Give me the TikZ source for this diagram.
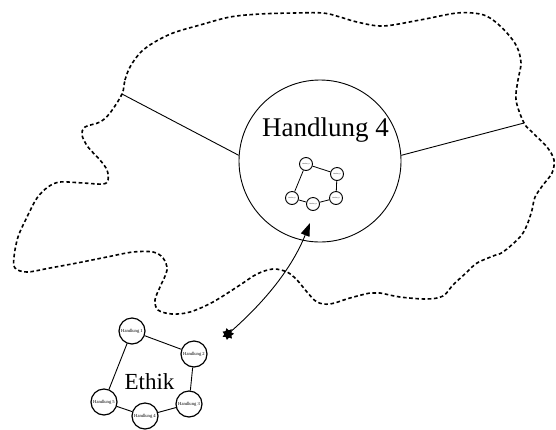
\documentclass[tikz,border=0pt]{standalone}
\usepackage{fontspec}
\setmainfont{Liberation Serif}
\usetikzlibrary{arrows.meta,shapes.geometric}
\begin{document}
\begin{tikzpicture}[x=1pt,y=-1pt,
  cloud/.style={line width=1.6pt,dash pattern=on 3.6pt off 2.6pt},
  bigcircle/.style={circle,draw,line width=0.9pt,minimum size=162pt,inner sep=0pt},
  hnode/.style={circle,draw,line width=1.2pt,minimum size=26pt,inner sep=0pt,font=\fontsize{4.6}{5}\selectfont},
  snode/.style={circle,draw,line width=0.9pt,minimum size=13pt,inner sep=0pt,font=\fontsize{1.6}{2}\selectfont},
  link/.style={line width=0.9pt},
  slink/.style={line width=0.8pt}]
\useasboundingbox (0,0) rectangle (556,429);
% dashed cloud
\draw[cloud] plot[smooth cycle,tension=0.55] coordinates {
(122,94) (125,80) (130,67) (140,53) (153,43) (173,33) (200,25) (230,17) (260,14)
(293,13) (323,13) (340,17) (357,22) (383,26) (420,20) (457,13) (480,14) (493,20)
(507,33) (517,47) (521,63) (518,80) (516,100) (524,123) (533,133) (547,147)
(554,160) (552,173) (543,185) (535,197) (532,210) (527,225) (520,237) (503,252)
(493,256) (477,263) (467,272) (453,285) (443,296) (427,299) (400,297) (380,293)
(370,293) (350,298) (330,304) (317,302) (307,292) (297,280) (287,272) (273,269)
(257,274) (240,285) (213,302) (190,312) (172,314) (158,310) (155,300) (160,287)
(167,270) (163,258) (153,252) (133,252) (107,257) (77,263) (50,268) (27,272)
(15,268) (14,257) (18,237) (27,217) (37,198) (48,187) (60,182) (83,183) (103,184)
(108,180) (107,170) (100,160) (88,147) (82,135) (85,127) (100,122) (110,113)};
\coordinate (cl) at (122,94);
\coordinate (cr) at (524,123);
% big circle
\node[bigcircle] (big) at (320,161) {};
\node[font=\fontsize{27}{30}\selectfont,anchor=base,inner sep=0pt] (biglabel) at (325.5,136) {Handlung 4};
\draw[link] (cl) -- (big.176);
\draw[link] (cr) -- (big.4);
% small network inside
\node[snode] (s1) at (306,164) {Handlung 1};
\node[snode] (s2) at (337,174) {Handlung 2};
\node[snode] (s3) at (336,198) {Handlung 3};
\node[snode] (s4) at (313,204) {Handlung 4};
\node[snode] (s5) at (292,198) {Handlung 5};
\draw[slink] (s1) -- (s2) (s2) -- (s3) (s3) -- (s4) (s4) -- (s5) (s5) -- (s1);
% Ethik network
\node[hnode] (h1) at (132,331) {Handlung 1};
\node[hnode] (h2) at (194,354) {Handlung 2};
\node[hnode] (h3) at (189,404) {Handlung 3};
\node[hnode] (h4) at (145,416) {Handlung 4};
\node[hnode] (h5) at (104,402) {Handlung 5};
\draw[link] (h1) -- (h2) (h2) -- (h3) (h3) -- (h4) (h4) -- (h5) (h5) -- (h1);
\node[font=\fontsize{23}{26}\selectfont,anchor=base,inner sep=0pt] (ethik) at (149.5,389) {Ethik};
% arrow
\node[star,star points=7,star point ratio=1.6,fill=black,minimum size=12pt,inner sep=0pt,rotate=15] (tail) at (228,334) {};
\coordinate (tip) at (310,223);
\draw[line width=0.9pt,-{Triangle[length=13pt,width=9pt]}] (tail.center) .. controls (265,302) and (292,268) .. (tip);
\end{tikzpicture}
\end{document}
